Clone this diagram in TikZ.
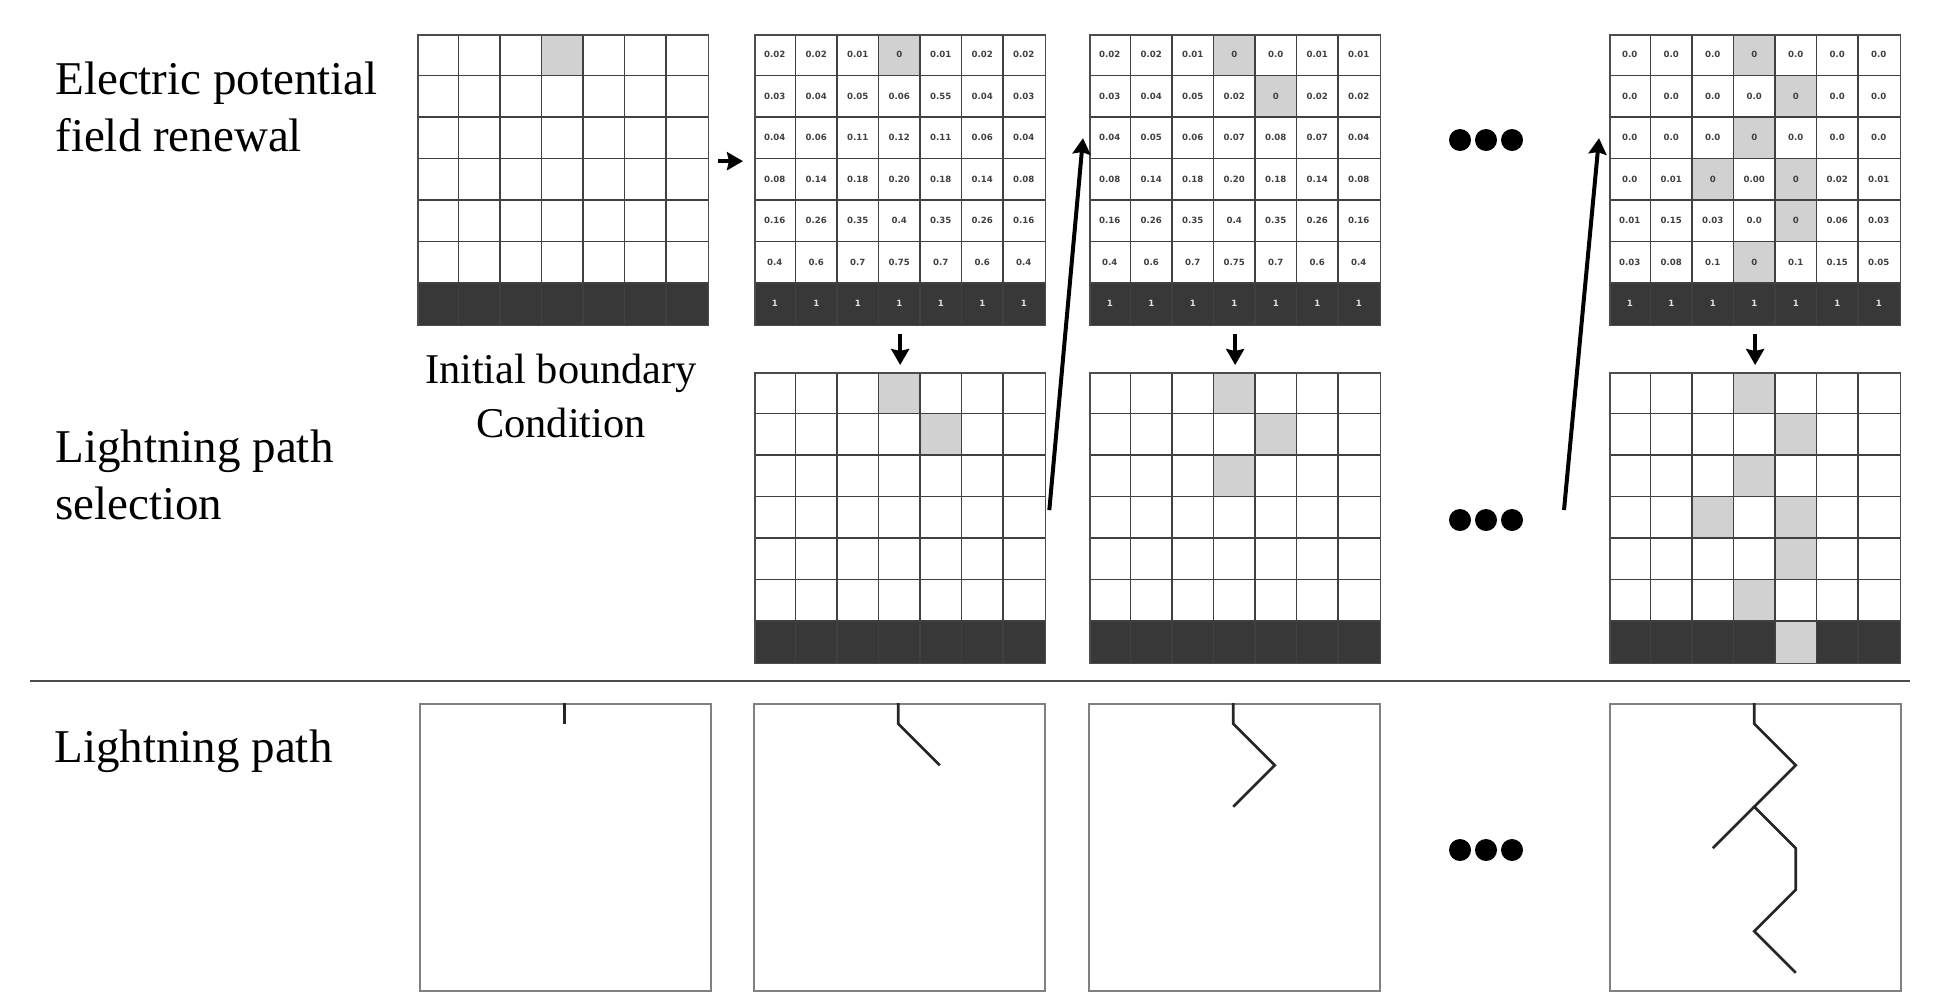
\documentclass[tikz,border=0pt]{standalone}
\usepackage{fontspec}
\setmainfont{Liberation Serif}
\newfontfamily\titlefont{Liberation Serif}
\newfontfamily\valfont{DejaVu Sans}
\usetikzlibrary{positioning, arrows.meta, calc}

% cell size in picture units
\newcommand{\cs}{41.5}

% grid body: lit cells, ground row and inner lines; #1 = left, #2 = top, #3 = lit cells col/row
\newcommand{\gridbody}[3]{%
  \fill[ground] (#1,#2+6*\cs) rectangle ++(7*\cs,\cs);
  \foreach \col/\rw in {#3}
    \fill[lit] (#1+\col*\cs-\cs,#2+\rw*\cs-\cs) rectangle ++(\cs,\cs);
  \foreach \k in {1,...,6} {
    \draw[cellline] (#1+\k*\cs,#2) -- ++(0,7*\cs);
    \draw[cellline] (#1,#2+\k*\cs) -- ++(7*\cs,0);
  }
}

% potential values; #1 = name, #2 = left, #3 = top, #4 = rows
\newcommand{\gridvalues}[4]{%
  \foreach \row [count=\rw] in {#4}
    \foreach \v [count=\col] in \row
      \node[val] (#1-\rw-\col) at (#2+\col*\cs-0.5*\cs,#3+\rw*\cs-0.5*\cs) {\v};
  \foreach \col in {1,...,7}
    \node[val, text=black!12] (#1-7-\col) at (#2+\col*\cs-0.5*\cs,#3+6.5*\cs) {1};
}

\begin{document}
\begin{tikzpicture}[
    x=0.5pt, y=-0.5pt,
    frame/.style={draw=black!70, line width=0.9pt, minimum width=145.25pt, minimum height=145.25pt, inner sep=0pt, anchor=north west},
    boltbox/.style={draw=black!50, line width=0.8pt, minimum width=145.5pt, minimum height=143.5pt, inner sep=0pt, anchor=north west},
    cellline/.style={draw=black!75, line width=0.9pt},
    ground/.style={fill=black!78},
    lit/.style={fill=black!18},
    val/.style={font=\valfont\bfseries\fontsize{4.3}{5}\selectfont, text=black!75, inner sep=0pt},
    bolt/.style={draw=black!85, line width=1.3pt, line join=miter},
    arr/.style={-{Stealth[length=8pt, width=9pt, inset=1pt]}, line width=1.7pt},
    rowtitle/.style={font=\titlefont\fontsize{23.5}{28.5}\selectfont, align=left, inner sep=0pt},
    caption/.style={font=\titlefont\fontsize{21.2}{27}\selectfont, align=center, inner sep=0pt}
  ]
  \useasboundingbox (0,0) rectangle (1936,992);

  % row titles
  \node[rowtitle, anchor=north west] (tfield) at (55,61) {Electric potential\\field renewal};
  \node[rowtitle, anchor=north west] (tselect) at (55,429) {Lightning path\\selection};
  \node[rowtitle, anchor=base west] (tpath) at (54,762) {Lightning path};

  % potential field grids
  \gridbody{417}{34}{4/1}
  \gridbody{754}{34}{4/1}
  \gridbody{1089}{34}{4/1, 5/2}
  \gridbody{1609}{34}{4/1, 5/2, 4/3, 3/4, 5/4, 5/5, 4/6}
  \node[frame] (field1) at (417,34) {};
  \node[frame] (field2) at (754,34) {};
  \node[frame] (field3) at (1089,34) {};
  \node[frame] (field4) at (1609,34) {};

  \gridvalues{f2}{754}{34}{{0.02,0.02,0.01,0,0.01,0.02,0.02},
    {0.03,0.04,0.05,0.06,0.55,0.04,0.03},
    {0.04,0.06,0.11,0.12,0.11,0.06,0.04},
    {0.08,0.14,0.18,0.20,0.18,0.14,0.08},
    {0.16,0.26,0.35,0.4,0.35,0.26,0.16},
    {0.4,0.6,0.7,0.75,0.7,0.6,0.4}}
  \gridvalues{f3}{1089}{34}{{0.02,0.02,0.01,0,0.0,0.01,0.01},
    {0.03,0.04,0.05,0.02,0,0.02,0.02},
    {0.04,0.05,0.06,0.07,0.08,0.07,0.04},
    {0.08,0.14,0.18,0.20,0.18,0.14,0.08},
    {0.16,0.26,0.35,0.4,0.35,0.26,0.16},
    {0.4,0.6,0.7,0.75,0.7,0.6,0.4}}
  \gridvalues{f4}{1609}{34}{{0.0,0.0,0.0,0,0.0,0.0,0.0},
    {0.0,0.0,0.0,0.0,0,0.0,0.0},
    {0.0,0.0,0.0,0,0.0,0.0,0.0},
    {0.0,0.01,0,0.00,0,0.02,0.01},
    {0.01,0.15,0.03,0.0,0,0.06,0.03},
    {0.03,0.08,0.1,0,0.1,0.15,0.05}}

  \node[caption, anchor=north] (tinit) at (561,354) {Initial boundary\\Condition};

  % path selection grids
  \gridbody{754}{372}{4/1, 5/2}
  \gridbody{1089}{372}{4/1, 5/2, 4/3}
  \gridbody{1609}{372}{4/1, 5/2, 4/3, 3/4, 5/4, 5/5, 4/6, 5/7}
  \node[frame] (path2) at (754,372) {};
  \node[frame] (path3) at (1089,372) {};
  \node[frame] (path4) at (1609,372) {};

  % arrows
  \coordinate (prev) at (1564,510);
  \draw[arr] ($(field1.east)+(9,-19)$) -- ($(field2.west)+(-11,-19)$);
  \draw[arr] ($(field2.south)+(0,8)$) -- ($(path2.north)+(0,-7)$);
  \draw[arr] ($(field3.south)+(0,8)$) -- ($(path3.north)+(0,-7)$);
  \draw[arr] ($(field4.south)+(0,8)$) -- ($(path4.north)+(0,-7)$);
  \draw[arr, line width=2pt] ($(path2.east)+(3,-8)$) -- ($(field3.west)+(-6,-42)$);
  \draw[arr, line width=2pt] (prev) -- ($(field4.west)+(-10,-42)$);

  % separator
  \draw[draw=black!70, line width=1pt] (30,681) -- (1910,681);

  % lightning path boxes
  \node[boltbox] (bolt1) at (419,703) {};
  \node[boltbox] (bolt2) at (753,703) {};
  \node[boltbox] (bolt3) at (1088,703) {};
  \node[boltbox] (bolt4) at (1609,703) {};

  \begin{scope}[shift={(bolt1.north west)}]
    \draw[bolt] (3.5*\cs,0) -- (3.5*\cs,0.5*\cs);
  \end{scope}
  \begin{scope}[shift={(bolt2.north west)}]
    \draw[bolt] (3.5*\cs,0) -- (3.5*\cs,0.5*\cs) -- (4.5*\cs,1.5*\cs);
  \end{scope}
  \begin{scope}[shift={(bolt3.north west)}]
    \draw[bolt] (3.5*\cs,0) -- (3.5*\cs,0.5*\cs) -- (4.5*\cs,1.5*\cs) -- (3.5*\cs,2.5*\cs);
  \end{scope}
  \begin{scope}[shift={(bolt4.north west)}]
    \draw[bolt] (3.5*\cs,0) -- (3.5*\cs,0.5*\cs) -- (4.5*\cs,1.5*\cs) -- (3.5*\cs,2.5*\cs)
      -- (4.5*\cs,3.5*\cs) -- (4.5*\cs,4.5*\cs) -- (3.5*\cs,5.5*\cs) -- (4.5*\cs,6.5*\cs);
    \draw[bolt] (3.5*\cs,2.5*\cs) -- (2.5*\cs,3.5*\cs);
  \end{scope}

  % ellipsis dots
  \foreach \dy in {140,520,850}
    \foreach \dx in {1460,1486,1512}
      \fill (\dx,\dy) circle (5.5pt);
\end{tikzpicture}
\end{document}
